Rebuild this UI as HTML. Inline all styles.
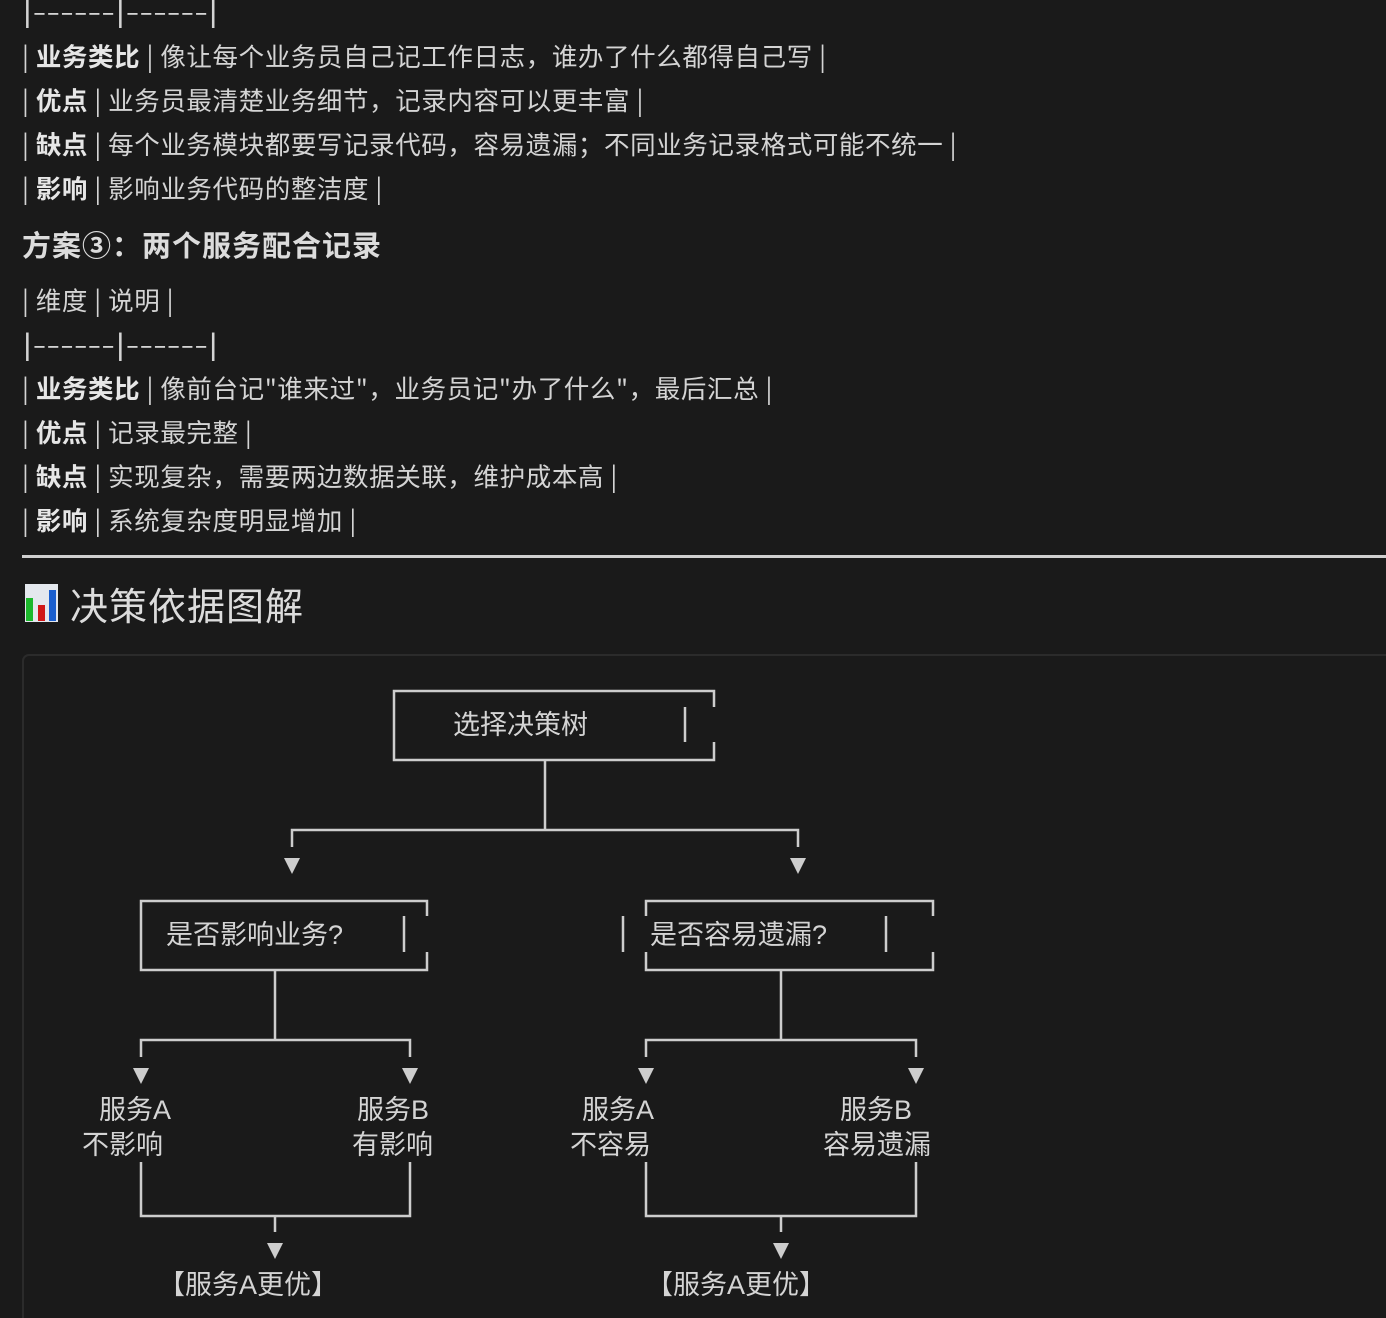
<!DOCTYPE html>
<html><head><meta charset="utf-8">
<style>
html,body{margin:0;padding:0;background:#1a1a1a;width:1386px;height:1318px;overflow:hidden;}
body{position:relative;font-family:"Noto Sans CJK SC","Liberation Sans",sans-serif;color:#d4d4d4;}
.l{position:absolute;left:22px;font-size:25.5px;white-space:nowrap;line-height:30px;letter-spacing:0.6px;}
.l b{font-weight:bold;color:#e6e6e6;}
.d{letter-spacing:0;transform:scaleX(1.55);transform-origin:0 0;}
.h{position:absolute;left:22px;font-size:29px;white-space:nowrap;line-height:34px;color:#dcdcdc;font-weight:bold;letter-spacing:1px;}
svg{position:absolute;left:0;top:0;}
</style></head><body>
<div class="l d" style="top:-4px">|------|------|</div>
<div class="l" style="top:41px">| <b>业务类比</b> | 像让每个业务员自己记工作日志，谁办了什么都得自己写 |</div>
<div class="l" style="top:85px">| <b>优点</b> | 业务员最清楚业务细节，记录内容可以更丰富 |</div>
<div class="l" style="top:129px">| <b>缺点</b> | 每个业务模块都要写记录代码，容易遗漏；不同业务记录格式可能不统一 |</div>
<div class="l" style="top:173px">| <b>影响</b> | 影响业务代码的整洁度 |</div>
<div class="h" style="top:227px">方案③：两个服务配合记录</div>
<div class="l" style="top:285px">| 维度 | 说明 |</div>
<div class="l d" style="top:329px">|------|------|</div>
<div class="l" style="top:373px">| <b>业务类比</b> | 像前台记"谁来过"，业务员记"办了什么"，最后汇总 |</div>
<div class="l" style="top:417px">| <b>优点</b> | 记录最完整 |</div>
<div class="l" style="top:461px">| <b>缺点</b> | 实现复杂，需要两边数据关联，维护成本高 |</div>
<div class="l" style="top:505px">| <b>影响</b> | 系统复杂度明显增加 |</div>
<div style="position:absolute;left:22px;top:555px;width:1364px;height:3px;background:#cfcfcf"></div>
<div style="position:absolute;left:25px;top:584px;width:33px;height:38px;background:#e4e8ee"></div>
<div style="position:absolute;left:26px;top:598px;width:7px;height:23px;background:#1cb82c"></div>
<div style="position:absolute;left:38px;top:605px;width:7px;height:16px;background:#d01818"></div>
<div style="position:absolute;left:49px;top:590px;width:7px;height:31px;background:#1a5fd0"></div>
<div class="h" style="top:580px;left:70px;font-size:38px;line-height:48px;font-weight:normal">决策依据图解</div>
<div style="position:absolute;left:22px;top:654px;width:1380px;height:700px;border:2px solid #2b2b2b;border-radius:7px;"></div>
<svg width="1386" height="1318" viewBox="0 0 1386 1318">
<g stroke="#cdcdcd" stroke-width="2.5" fill="none">
<path d="M714 707 V691 H394 V760 H714 V742"/>
<line x1="685" y1="707" x2="685" y2="742"/>
<path d="M545 760 V830 M292 847 V830 H798 V847"/>
<path d="M427 916 V901 H141 V970 H427 V952"/>
<line x1="404" y1="916" x2="404" y2="952"/>
<path d="M275 970 V1040 M141 1057 V1040 H410 V1057"/>
<path d="M646 916 V901 H933 V916 M646 952 V970 H933 V952"/>
<line x1="623" y1="916" x2="623" y2="952"/>
<line x1="886" y1="916" x2="886" y2="952"/>
<path d="M781 970 V1040 M646 1057 V1040 H916 V1057"/>
<path d="M141 1162 V1216 H410 V1162 M275 1216 V1232"/>
<path d="M646 1162 V1216 H916 V1162 M781 1216 V1232"/>
</g>
<g fill="#cdcdcd">
<polygon points="284,858 300,858 292,874"/>
<polygon points="790,858 806,858 798,874"/>
<polygon points="133,1068 149,1068 141,1084"/>
<polygon points="402,1068 418,1068 410,1084"/>
<polygon points="638,1068 654,1068 646,1084"/>
<polygon points="908,1068 924,1068 916,1084"/>
<polygon points="267,1243 283,1243 275,1259"/>
<polygon points="773,1243 789,1243 781,1259"/>
</g>
<g fill="#d4d4d4" font-family="Liberation Sans, Noto Sans CJK SC, sans-serif" font-size="27">
<text x="453" y="734">选择决策树</text>
<text x="166" y="944">是否影响业务?</text>
<text x="650" y="944">是否容易遗漏?</text>
<text x="99" y="1119">服务A</text>
<text x="82" y="1154">不影响</text>
<text x="357" y="1119">服务B</text>
<text x="352" y="1154">有影响</text>
<text x="582" y="1119">服务A</text>
<text x="570" y="1154">不容易</text>
<text x="840" y="1119">服务B</text>
<text x="823" y="1154">容易遗漏</text>
<text x="158" y="1294">【服务A更优】</text>
<text x="646" y="1294">【服务A更优】</text>
</g>
</svg>
</body></html>
